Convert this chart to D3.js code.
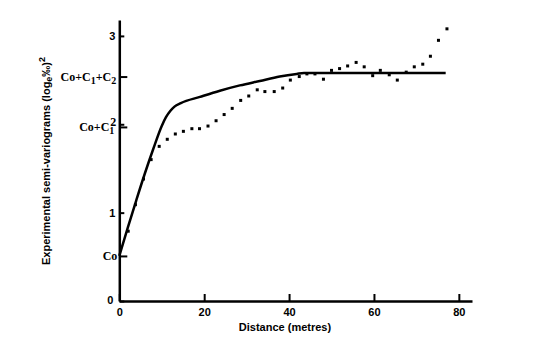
<!DOCTYPE html>
<html><head><meta charset="utf-8">
<script src="https://cdn.jsdelivr.net/npm/d3@7"></script>
<style>
body{margin:0;background:#fff;}
svg{display:block;}
.num{font-family:"Liberation Sans Narrow","Arial Narrow","Liberation Sans",sans-serif;font-weight:bold;font-size:11px;}
.ser{font-family:"Liberation Serif","Times New Roman",serif;font-weight:bold;font-size:12px;}
.ttl{font-family:"Liberation Sans",Arial,sans-serif;font-weight:bold;font-size:11px;}
</style></head>
<body>
<svg id="c" width="540" height="357"></svg>
<script>
// Experimental semi-variogram points (distance, value)
const distance = [2.1, 3.8, 5.7, 7.5, 9.4, 11.3, 13.2, 15.1, 17.1, 18.9, 20.9, 22.8, 24.7, 26.6, 28.6, 30.5, 32.5, 34.3, 36.5, 38.5, 40.3, 42.4, 44.2, 46.1, 48.1, 50.0, 51.9, 53.8, 55.8, 57.7, 59.7, 61.5, 63.6, 65.5, 67.6, 69.5, 71.5, 73.3, 75.2, 77.2];
const semivar = [0.79, 1.09, 1.38, 1.60, 1.75, 1.83, 1.89, 1.92, 1.95, 1.95, 1.98, 2.04, 2.11, 2.18, 2.27, 2.32, 2.39, 2.37, 2.37, 2.41, 2.50, 2.54, 2.57, 2.57, 2.51, 2.61, 2.63, 2.66, 2.70, 2.65, 2.55, 2.61, 2.56, 2.50, 2.59, 2.65, 2.68, 2.77, 2.95, 3.08];
// Fitted model curve
const modelX = [0, 2, 4, 6, 8, 10, 11, 12, 13, 14.5, 19.0, 23.7, 28.4, 33.1, 37.8, 41.8, 43.5, 76.9];
const modelY = [0.51, 0.83, 1.14, 1.44, 1.72, 1.98, 2.08, 2.15, 2.20, 2.24, 2.31, 2.38, 2.44, 2.49, 2.54, 2.57, 2.58, 2.58];
const xTicks = [0, 20, 40, 60, 80];
const yTicks = [0, 1, 2, 3];
const Co = 0.51, CoC1 = 1.97, CoC1C2 = 2.54;

const svg = d3.select("#c");
const x = d3.scaleLinear().domain([0, 83.1]).range([119.3, 472]);
const y = d3.scaleLinear().domain([0, 3.18]).range([301, 20]);

// x axis
const gx = svg.append("g").attr("transform", "translate(0," + y(0) + ")")
  .call(d3.axisBottom(x).tickValues(xTicks).tickFormat(d3.format("d")).tickSizeInner(-7).tickSizeOuter(0).tickPadding(5));
gx.select(".domain").attr("stroke-width", 2.5);
gx.selectAll(".tick line").attr("stroke-width", 2);
gx.selectAll("text").attr("class", "num").attr("font-family", null).attr("font-size", null).attr("fill", "#000").attr("dy", "0.95em");

// y axis numeric
const gy = svg.append("g").attr("transform", "translate(" + x(0) + ",0)")
  .call(d3.axisLeft(y).tickValues(yTicks).tickFormat(d3.format("d")).tickSizeInner(-5).tickSizeOuter(0).tickPadding(4));
gy.select(".domain").attr("stroke-width", 2.5);
gy.selectAll(".tick line").attr("stroke-width", 2);
gy.selectAll("text").attr("class", "num").attr("font-family", null).attr("font-size", null).attr("fill", "#000");
gy.selectAll(".tick").filter(d => d === 0).select("text").attr("dx", "-2").attr("dy", "0.2em");
gy.selectAll(".tick").filter(d => d === 2).select("text").attr("class", "ser").attr("font-size", "10px").attr("font-weight", "normal").attr("dy", "0.1em").attr("dx", "1");

// y axis custom (model parameter) ticks
const gy2 = svg.append("g").attr("transform", "translate(" + x(0) + ",0)")
  .call(d3.axisLeft(y).tickValues([Co, CoC1, CoC1C2]).tickSizeInner(-8).tickSizeOuter(0).tickFormat(""));
gy2.select(".domain").remove();
gy2.selectAll(".tick line").attr("stroke-width", 2);

function paramLabel(val, parts, xo) {
  const t = svg.append("text").attr("class", "ser").attr("text-anchor", "end")
    .attr("x", x(0) - xo).attr("y", y(val)).attr("dy", "0.35em");
  parts.forEach(p => {
    const ts = t.append("tspan").text(p[0]);
    if (p[1] === "sub") ts.attr("baseline-shift", "-30%").attr("font-size", "10px");
  });
}
paramLabel(Co, [["Co"]], 2);
paramLabel(CoC1, [["Co+C"], ["1", "sub"]], 5);
paramLabel(CoC1C2, [["Co+C"], ["1", "sub"], ["+C"], ["2", "sub"]], 3);

// model curve
const line = d3.line().x(d => x(d[0])).y(d => y(d[1])).curve(d3.curveMonotoneX);
svg.append("path").datum(d3.zip(modelX, modelY)).attr("d", line)
  .attr("fill", "none").attr("stroke", "#000").attr("stroke-width", 2.5);

// points
svg.append("g").selectAll("rect").data(d3.zip(distance, semivar)).join("rect")
  .attr("x", d => x(d[0]) - 1.5).attr("y", d => y(d[1]) - 1.5)
  .attr("width", 3).attr("height", 3).attr("fill", "#000");

// titles
svg.append("text").attr("class", "ttl").attr("text-anchor", "middle")
  .attr("x", 285).attr("y", 331).text("Distance (metres)");
const yt = svg.append("text").attr("class", "ttl").attr("text-anchor", "middle")
  .attr("transform", "translate(50,161) rotate(-90)");
yt.append("tspan").text("Experimental semi-variograms (log");
yt.append("tspan").attr("baseline-shift", "-25%").attr("font-size", "9px").text("e");
yt.append("tspan").text("‰)");
yt.append("tspan").attr("baseline-shift", "super").attr("font-size", "9px").text("2");
</script>
</body></html>
